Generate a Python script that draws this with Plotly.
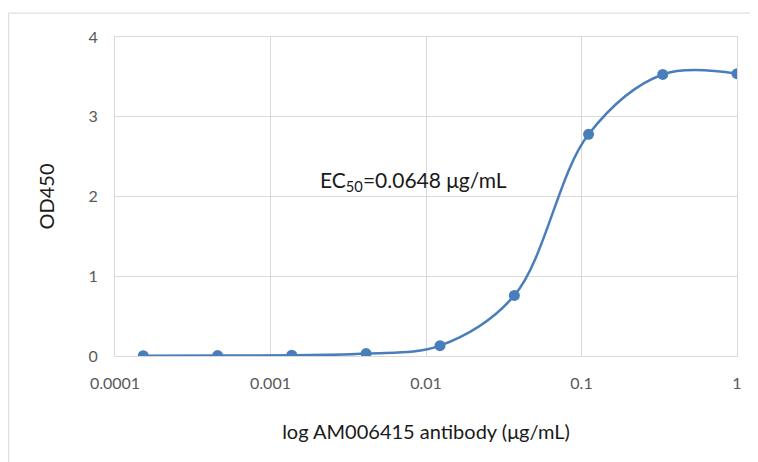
import plotly.graph_objects as go

conc = [0.000152, 0.000457, 0.00137, 0.00412, 0.0123, 0.037, 0.111, 0.333, 1.0]
od450 = [0.003, 0.005, 0.01, 0.03, 0.13, 0.76, 2.78, 3.53, 3.54]
x_ticks = [0.0001, 0.001, 0.01, 0.1, 1]
x_ticktext = ["0.0001", "0.001", "0.01", "0.1", "1"]
y_ticks = [0, 1, 2, 3, 4]
ec50_label = "EC<sub>50</sub>=0.0648 μg/mL"

color = "#4a7ebb"
font_family = "Lato, 'Open Sans', sans-serif"

fig = go.Figure()
fig.add_trace(go.Scatter(
    x=conc, y=od450, mode="lines+markers",
    line=dict(color=color, width=2.5, shape="spline", smoothing=1.0),
    marker=dict(color=color, size=11),
    showlegend=False,
))

fig.update_layout(
    width=750, height=454,
    margin=dict(l=107, r=21, t=29, b=106, autoexpand=False),
    paper_bgcolor="white", plot_bgcolor="white",
    font=dict(family=font_family, color="#595959", size=16),
    xaxis=dict(
        type="log", range=[-4, 0], tickvals=x_ticks, ticktext=x_ticktext,
        showgrid=True, gridcolor="#d9d9d9", gridwidth=1,
        zeroline=False, showline=True, linecolor="#d9d9d9", mirror=True,
        ticks="", ticklabelstandoff=13, automargin=False,
        title=dict(text="log AM006415 antibody (μg/mL)", font=dict(size=20, color="#1a1a1a"), standoff=33),
    ),
    yaxis=dict(
        range=[0, 4], tickvals=y_ticks,
        showgrid=True, gridcolor="#d9d9d9", gridwidth=1,
        zeroline=False, showline=True, linecolor="#d9d9d9", mirror=True,
        ticks="", ticklabelstandoff=13, automargin=False,
        title=dict(text="OD450", font=dict(size=20, color="#1a1a1a"), standoff=28),
    ),
    annotations=[dict(
        x=-2.08, y=2.19, xref="x", yref="y", text=ec50_label, showarrow=False,
        font=dict(size=21, color="#1a1a1a"), xanchor="center", yanchor="middle",
    )],
    shapes=[dict(
        type="rect", xref="paper", yref="paper",
        x0=-0.171, x1=1.2, y0=-0.37, y1=1.075,
        line=dict(color="#d9d9d9", width=1), layer="below",
    )],
)

fig.write_html("out.html")
